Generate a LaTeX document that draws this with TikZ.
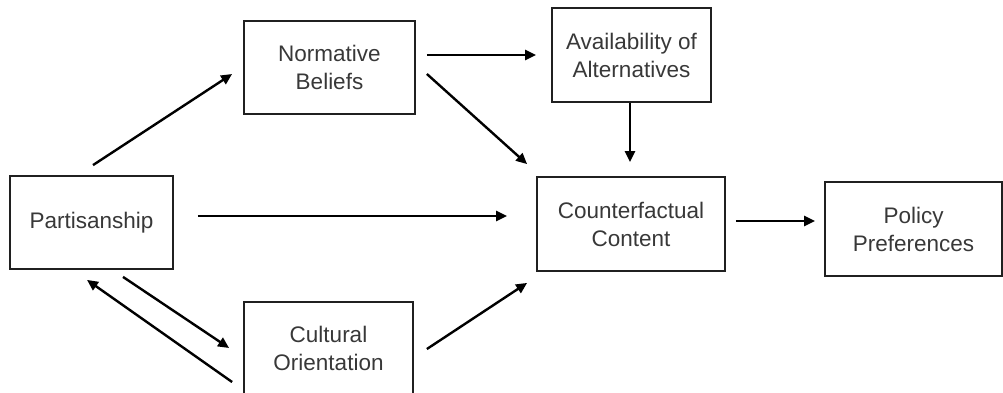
\documentclass[tikz,border=0pt]{standalone}
\usepackage{fontspec}
\setmainfont{Liberation Sans}
\usetikzlibrary{arrows.meta}
\definecolor{txt}{HTML}{383838}
\definecolor{edge}{HTML}{202020}
\begin{document}
\begin{tikzpicture}[x=1pt,y=1pt,
  box/.style={draw=edge,line width=1.8pt,minimum height=93pt,align=center,inner sep=0pt,
    text=txt,font=\fontsize{22.5}{28}\selectfont},
  arr/.style={line width=2.4pt,-{Triangle[length=11pt,width=10pt]}}]
\useasboundingbox (0,0) rectangle (1003,392);
\node[box,minimum width=163pt] (P) at (91.5,169.5) {Partisanship};
\node[box,minimum width=171pt] (N) at (329.5,324.5) {Normative\\Beliefs};
\node[box,minimum width=159pt,minimum height=94pt] (A) at (631.5,337) {Availability of\\Alternatives};
\node[box,minimum width=188pt,minimum height=94pt] (C) at (631,168) {Counterfactual\\Content};
\node[box,minimum width=177pt,minimum height=94pt] (Pol) at (913.5,163) {Policy\\Preferences};
\node[box,minimum width=169pt] (Cul) at (328.5,43.5) {Cultural\\Orientation};
\draw[arr] ([shift={(1.5,10)}]P.north) -- ([shift={(-11,-6.5)}]N.west);
\draw[arr] ([shift={(11,12.5)}]N.east) -- ([shift={(-15,0)}]A.west);
\draw[arr] ([shift={(11,-6.5)}]N.east) -- ([shift={(-9,12)}]C.north west);
\draw[arr] ([shift={(-1.5,0)}]A.south) -- ([shift={(-1,14)}]C.north);
\draw[arr] ([shift={(24,6.5)}]P.east) -- ([shift={(-29,8)}]C.west);
\draw[arr] ([shift={(10,3)}]C.east) -- ([shift={(-9,8)}]Pol.west);
\draw[arr] ([shift={(31.5,-7)}]P.south) -- ([shift={(-14,0.5)}]Cul.west);
\draw[arr] ([shift={(-11,-33.5)}]Cul.west) -- ([shift={(-4.5,-10)}]P.south);
\draw[arr] ([shift={(13,-0.5)}]Cul.east) -- ([shift={(-9,-11)}]C.south west);
\end{tikzpicture}
\end{document}
